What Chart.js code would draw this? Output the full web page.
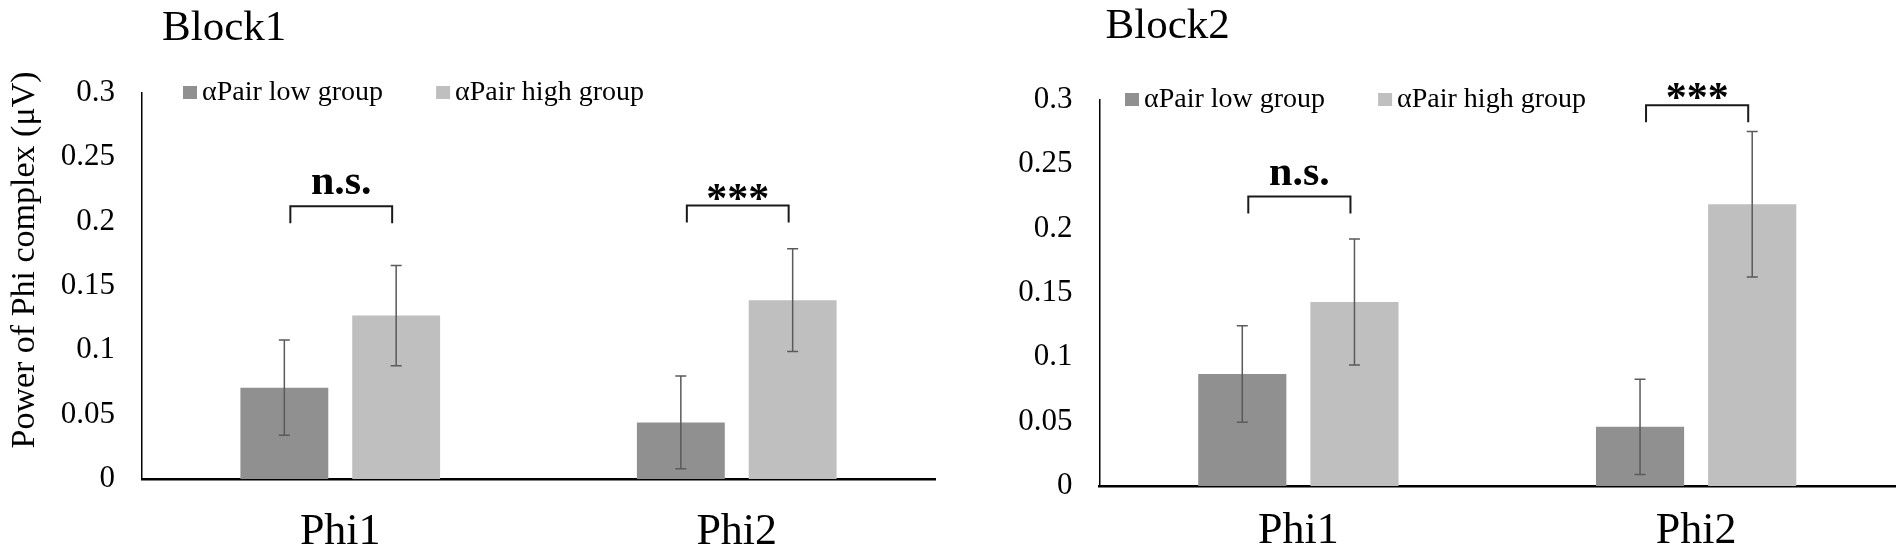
<!DOCTYPE html>
<html>
<head>
<meta charset="utf-8">
<script src="https://cdn.jsdelivr.net/npm/chart.js@4.4.1/dist/chart.umd.min.js"></script>
<style>
  body { margin: 0; background: #fff; width: 1902px; height: 554px; overflow: hidden; position: relative; }
  canvas { position: absolute; top: 0; }
  #block1 { left: 0; }
  #block2 { left: 951px; }
</style>
</head>
<body>
<canvas id="block1" width="951" height="554"></canvas>
<canvas id="block2" width="951" height="554"></canvas>
<script>
const categories = ['Phi1', 'Phi2'];
const seriesNames = ['\u03B1Pair low group', '\u03B1Pair high group'];
const yTickLabels = ['0', '0.05', '0.1', '0.15', '0.2', '0.25', '0.3'];

// Block1 means and error (half-length of bar)
const block1Low = [0.071, 0.044];
const block1High = [0.127, 0.139];
const block1LowErr = [0.037, 0.036];
const block1HighErr = [0.039, 0.040];
const block1Sig = ['n.s.', '***'];
const block1SigAt = [0.212, 0.2125];

// Block2
const block2Low = [0.087, 0.046];
const block2High = [0.143, 0.219];
const block2LowErr = [0.0375, 0.037];
const block2HighErr = [0.049, 0.0565];
const block2Sig = ['n.s.', '***'];
const block2SigAt = [0.225, 0.296];

const serif = "'Liberation Serif', 'Times New Roman', serif";
const lowColor = '#909090';
const highColor = '#bfbfbf';

// title, error bars, brackets, legend and y title drawn over the bars
const extras = {
    id: 'extras',
    afterDatasetsDraw(chart, args, opts) {
        const ctx = chart.ctx;
        const yScale = chart.scales.y;
        const area = chart.chartArea;
        ctx.save();

        // panel title
        ctx.fillStyle = '#000';
        ctx.textAlign = 'left';
        ctx.textBaseline = 'alphabetic';
        ctx.font = '43px ' + serif;
        ctx.fillText(opts.title, area.left + opts.titleDx, opts.titleBase);

        // error bars
        ctx.strokeStyle = '#5a5a5a';
        ctx.lineWidth = 1.5;
        chart.data.datasets.forEach((ds, di) => {
            chart.getDatasetMeta(di).data.forEach((bar, i) => {
                const top = yScale.getPixelForValue(ds.data[i] + ds.errors[i]);
                const bot = yScale.getPixelForValue(ds.data[i] - ds.errors[i]);
                ctx.beginPath();
                ctx.moveTo(bar.x, top); ctx.lineTo(bar.x, bot);
                ctx.moveTo(bar.x - 5.5, top); ctx.lineTo(bar.x + 5.5, top);
                ctx.moveTo(bar.x - 5.5, bot); ctx.lineTo(bar.x + 5.5, bot);
                ctx.stroke();
            });
        });

        // significance brackets
        const lowBars = chart.getDatasetMeta(0).data;
        const highBars = chart.getDatasetMeta(1).data;
        opts.sig.forEach((txt, i) => {
            const x1 = lowBars[i].x + 6;
            const x2 = highBars[i].x - 4;
            const yb = yScale.getPixelForValue(opts.sigAt[i]);
            ctx.strokeStyle = '#1a1a1a';
            ctx.lineWidth = 2;
            ctx.beginPath();
            ctx.moveTo(x1, yb + 17); ctx.lineTo(x1, yb); ctx.lineTo(x2, yb); ctx.lineTo(x2, yb + 17);
            ctx.stroke();
            ctx.fillStyle = '#000';
            ctx.textAlign = 'center';
            ctx.font = 'bold 42px ' + serif;
            const base = txt === '***' ? yb + 6 : yb - 12;
            ctx.fillText(txt, (x1 + x2) / 2, base);
        });

        // legend inside the plot top
        ctx.font = '28px ' + serif;
        ctx.textAlign = 'left';
        let lx = area.left + opts.legendX;
        chart.data.datasets.forEach(ds => {
            ctx.fillStyle = ds.backgroundColor;
            ctx.fillRect(lx, area.top - 7, 14, 13);
            ctx.fillStyle = '#000';
            ctx.fillText(ds.label, lx + 19, area.top + 7);
            lx += 19 + ctx.measureText(ds.label).width + 53;
        });

        // y axis title
        if (opts.yTitle) {
            ctx.translate(25, (area.top + area.bottom) / 2 - 26);
            ctx.rotate(-Math.PI / 2);
            ctx.textAlign = 'center';
            ctx.textBaseline = 'middle';
            ctx.font = '34px ' + serif;
            ctx.fillStyle = '#000';
            ctx.fillText(opts.yTitle, 0, 0);
        }
        ctx.restore();
    }
};

const makeChart = (id, title, low, high, lowErr, highErr, sig, sigAt, cfg) => {
    const ctx = document.getElementById(id).getContext('2d');
    return new Chart(ctx, {
        type: 'bar',
        data: {
            labels: categories,
            datasets: [
                { label: seriesNames[0], data: low, errors: lowErr, backgroundColor: lowColor },
                { label: seriesNames[1], data: high, errors: highErr, backgroundColor: highColor }
            ]
        },
        options: {
            responsive: false,
            animation: false,
            devicePixelRatio: 1,
            categoryPercentage: 0.564,
            barPercentage: 0.786,
            layout: { padding: { left: 0, top: cfg.padTop, right: cfg.padRight, bottom: 0 } },
            plugins: {
                legend: { display: false },
                tooltip: { enabled: false },
                title: { display: false },
                extras: {
                    title: title, titleDx: cfg.titleDx, titleBase: cfg.titleBase,
                    sig: sig, sigAt: sigAt, legendX: cfg.legendX, yTitle: cfg.yTitle
                }
            },
            scales: {
                x: {
                    grid: { display: false, drawTicks: false },
                    border: { display: true, color: '#000', width: 2.5 },
                    ticks: { color: '#000', font: { family: serif, size: 44 }, padding: cfg.xPad },
                    afterFit: scale => { scale.height = cfg.xHeight; }
                },
                y: {
                    min: 0,
                    max: 0.3,
                    grid: { display: false, drawTicks: false },
                    border: { display: true, color: '#000', width: 1.5 },
                    ticks: {
                        stepSize: 0.05,
                        color: '#000',
                        padding: 27,
                        font: { family: serif, size: 31 },
                        callback: (v, i) => yTickLabels[i]
                    },
                    afterFit: scale => { scale.width = cfg.yWidth; }
                }
            }
        },
        plugins: [extras]
    });
};

makeChart('block1', 'Block1', block1Low, block1High, block1LowErr, block1HighErr, block1Sig, block1SigAt, {
    padTop: 93, padRight: 16, xHeight: 75, xPad: 27, yWidth: 142,
    titleDx: 20, titleBase: 40, legendX: 41, yTitle: 'Power of Phi complex (\u03BCV)'
});
makeChart('block2', 'Block2', block2Low, block2High, block2LowErr, block2HighErr, block2Sig, block2SigAt, {
    padTop: 100, padRight: 7, xHeight: 68, xPad: 19, yWidth: 148.5,
    titleDx: 6, titleBase: 38, legendX: 25.5, yTitle: null
});
</script>
</body>
</html>
